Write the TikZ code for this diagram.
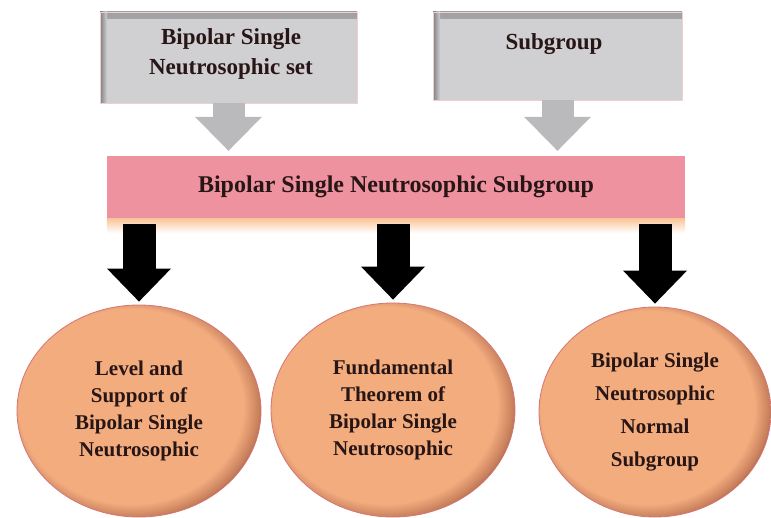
\documentclass[tikz,border=0pt]{standalone}
\usepackage{fontspec}
\setmainfont{Liberation Serif}
\usetikzlibrary{shapes.geometric,arrows.meta}

\definecolor{boxgray}{RGB}{208,207,210}
\definecolor{boxshade}{RGB}{160,160,163}
\definecolor{arrowgray}{RGB}{186,186,189}
\definecolor{barpink}{RGB}{238,146,160}
\definecolor{glow}{RGB}{250,196,150}
\definecolor{peach}{RGB}{242,172,126}
\definecolor{peachmid}{RGB}{200,128,92}
\definecolor{peachdark}{RGB}{110,62,46}
\definecolor{rim}{RGB}{214,118,118}
\definecolor{inktext}{RGB}{40,22,22}

\pgfdeclareradialshading{bubble}{\pgfpoint{-3bp}{2bp}}{color(0bp)=(peach); color(23bp)=(peach); color(26bp)=(peachmid); color(28.5bp)=(peachdark); color(50bp)=(peachdark)}

\tikzset{
  graybox/.style={rectangle, fill=boxgray, draw=rim!35, line width=0.6pt,
    minimum width=257pt, minimum height=91pt, inner sep=0pt,
    path picture={
      \shade[top color=boxshade, bottom color=boxgray] (path picture bounding box.north west) rectangle ([yshift=-7pt]path picture bounding box.north east);
      \shade[left color=boxshade!80!black, right color=boxgray] (path picture bounding box.north west) rectangle ([xshift=7pt]path picture bounding box.south west);
    }},
  boxtext/.style={font=\fontsize{23}{30}\selectfont\bfseries, text=inktext, align=center},
  pinkbar/.style={rectangle, fill=barpink, minimum width=578pt, minimum height=62pt,
    font=\fontsize{24}{30}\selectfont\bfseries, text=inktext},
  topic/.style={ellipse, shade, shading=bubble, draw=rim, line width=0.8pt,
    minimum width=244pt, minimum height=212pt, inner sep=0pt, align=center,
    font=\fontsize{21}{27}\selectfont\bfseries, text=inktext},
  grayarrow/.style={draw=arrowgray, line width=32pt,
    -{Triangle[width=67pt,length=34pt,line width=0pt]}, shorten >=5pt},
  blackarrow/.style={draw=black, line width=33pt,
    -{Triangle[width=64pt,length=33pt,line width=0pt]}, shorten >=3pt},
}

\begin{document}
\begin{tikzpicture}[x=1pt,y=-1pt]
  \useasboundingbox (0,0) rectangle (771,518);

  % inputs on top
  \node[graybox] (bsset) at (228.5,57.5) {};
  \node[graybox, minimum width=249pt, minimum height=88pt] (sgrp) at (557.5,56) {};
  \node[boxtext] (bssettxt) at (231,54) {Bipolar Single\\Neutrosophic set};
  \node[boxtext, anchor=base] (sgrptxt) at (554,50) {Subgroup};

  % main bar
  \node[pinkbar] (bsns) at (396,187) {Bipolar Single Neutrosophic Subgroup};
  \shade[top color=glow, bottom color=white] (bsns.south west) rectangle ([yshift=-15pt]bsns.south east);

  \draw[grayarrow] (bsset.south) -- (bsset.south |- bsns.north);
  \draw[grayarrow] (sgrp.south) -- (sgrp.south |- bsns.north);

  % results
  \node[topic] (lvl) at (139,411) {Level and\\Support of\\Bipolar Single\\Neutrosophic};
  \node[topic, minimum height=214pt] (fund) at (393,410) {Fundamental\\Theorem of\\Bipolar Single\\Neutrosophic};
  \node[topic, minimum width=232pt, minimum height=210pt,
    font=\fontsize{21}{33}\selectfont\bfseries] (nrml) at (655,412) {Bipolar Single\\Neutrosophic\\Normal\\Subgroup};

  \foreach \c in {lvl,fund,nrml} {
    \draw[blackarrow] ([yshift=-6pt]bsns.south -| \c.north) -- (\c.north);
  }
\end{tikzpicture}
\end{document}
